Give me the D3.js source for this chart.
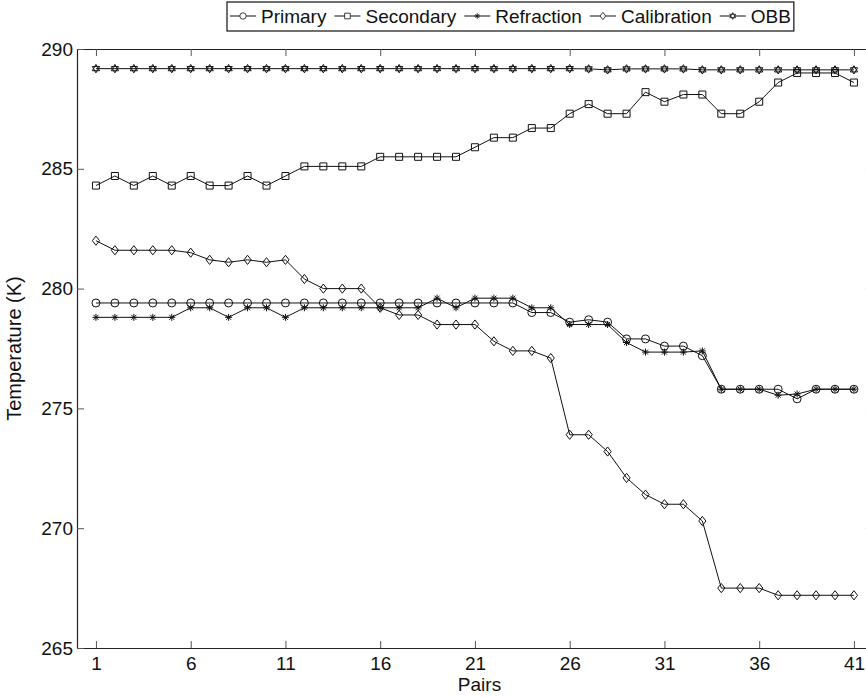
<!DOCTYPE html>
<html>
<head>
<meta charset="utf-8">
<script src="https://cdn.jsdelivr.net/npm/d3@7"></script>
<style>
 body { margin:0; background:#fff; }
 text { font-family: "Liberation Sans", Arial, Helvetica, sans-serif; }
</style>
</head>
<body>
<div id="chart"></div>
<script>
 // data
 var pairs = d3.range(1, 42);
 var xTicks = [1, 6, 11, 16, 21, 26, 31, 36, 41];
 var yTicks = [265, 270, 275, 280, 285, 290];

 var primary = [279.4,279.4,279.4,279.4,279.4,279.4,279.4,279.4,279.4,279.4,
		279.4,279.4,279.4,279.4,279.4,279.4,279.4,279.4,279.4,279.4,
		279.4,279.4,279.4,279.0,279.0,278.6,278.7,278.6,277.9,277.9,
		277.6,277.6,277.2,275.8,275.8,275.8,275.8,275.4,275.8,275.8,275.8];
 var secondary = [284.3,284.7,284.3,284.7,284.3,284.7,284.3,284.3,284.7,284.3,
		  284.7,285.1,285.1,285.1,285.1,285.5,285.5,285.5,285.5,285.5,
		  285.9,286.3,286.3,286.7,286.7,287.3,287.7,287.3,287.3,288.2,
		  287.8,288.1,288.1,287.3,287.3,287.8,288.6,289.0,289.0,289.0,288.6];
 var refraction = [278.8,278.8,278.8,278.8,278.8,279.2,279.2,278.8,279.2,279.2,
		   278.8,279.2,279.2,279.2,279.2,279.2,279.2,279.2,279.6,279.2,
		   279.6,279.6,279.6,279.2,279.2,278.5,278.5,278.5,277.75,277.35,
		   277.35,277.35,277.4,275.8,275.8,275.8,275.55,275.6,275.8,275.8,275.8];
 var calibration = [282.0,281.6,281.6,281.6,281.6,281.5,281.2,281.1,281.2,281.1,
		    281.2,280.4,280.0,280.0,280.0,279.2,278.9,278.9,278.5,278.5,
		    278.5,277.8,277.4,277.4,277.1,273.9,273.9,273.2,272.1,271.4,
		    271.0,271.0,270.3,267.5,267.5,267.5,267.2,267.2,267.2,267.2,267.2];
 var obb = [289.18,289.18,289.18,289.18,289.18,289.18,289.18,289.18,289.18,289.18,
	    289.18,289.18,289.18,289.18,289.18,289.18,289.18,289.18,289.18,289.18,
	    289.18,289.18,289.18,289.18,289.18,289.18,289.17,289.13,289.17,289.17,
	    289.17,289.17,289.13,289.13,289.13,289.13,289.13,289.13,289.13,289.13,289.13];

 var seriesNames = ["Primary", "Secondary", "Refraction", "Calibration", "OBB"];
 var seriesValues = [primary, secondary, refraction, calibration, obb];
 var seriesMarks = ["circle", "square", "asterisk", "diamond", "hexagram"];

 var W = 866, H = 697;
 var svg = d3.select("#chart").append("svg")
     .attr("width", W)
     .attr("height", H);

 var x = d3.scaleLinear().domain([0, 42]).range([77, 77 + 42 * 18.95]);
 var y = d3.scaleLinear().domain([265, 290]).range([648, 49]);

 //marker shapes, drawn centred on 0,0
 function markPath(kind) {
     if (kind == "circle") return d3.symbol().type(d3.symbolCircle).size(Math.PI * 16)();
     if (kind == "square") return "M-3.5,-3.5H3.5V3.5H-3.5Z";
     if (kind == "diamond") return "M0,-4.6L3.6,0L0,4.6L-3.6,0Z";
     if (kind == "asterisk") return "M-3.5,0H3.5M0,-3.5V3.5M-2.5,-2.5L2.5,2.5M-2.5,2.5L2.5,-2.5";
     // hexagram: two triangles
     var r = 4.2, pts1 = [], pts2 = [];
     for (var k = 0; k < 3; k++) {
	 var a1 = -Math.PI / 2 + k * 2 * Math.PI / 3;
	 var a2 = Math.PI / 2 + k * 2 * Math.PI / 3;
	 pts1.push([r * Math.cos(a1), r * Math.sin(a1)]);
	 pts2.push([r * Math.cos(a2), r * Math.sin(a2)]);
     }
     return "M" + pts1.join("L") + "Z" + "M" + pts2.join("L") + "Z";
 }

 //axes, ticks pointing inward like the original
 var xAxisB = d3.axisBottom(x).tickValues(xTicks).tickFormat(d3.format("d"))
     .tickSizeInner(-7).tickSizeOuter(0).tickPadding(9);
 var xAxisT = d3.axisTop(x).tickValues(xTicks).tickFormat("")
     .tickSizeInner(-7).tickSizeOuter(0);
 var yAxisL = d3.axisLeft(y).tickValues(yTicks).tickFormat(d3.format("d"))
     .tickSizeInner(-7).tickSizeOuter(0).tickPadding(4);
 var yAxisR = d3.axisRight(y).tickValues(yTicks).tickFormat("")
     .tickSizeInner(-7).tickSizeOuter(0);

 svg.append("g").attr("transform", "translate(0," + y(265) + ")").call(xAxisB);
 svg.append("g").attr("transform", "translate(0," + y(290) + ")").call(xAxisT);
 svg.append("g").attr("transform", "translate(" + x(0) + ",0)").call(yAxisL);
 svg.append("g").attr("transform", "translate(" + x(42) + ",0)").call(yAxisR);

 svg.selectAll(".domain").attr("stroke", "#222").attr("stroke-width", 1.2);
 svg.selectAll(".tick line").attr("stroke", "#555").attr("stroke-width", 1);
 svg.selectAll(".tick text").attr("font-size", 19).attr("fill", "#111")
     .style("font-family", "'Liberation Sans', Arial, sans-serif");

 //axis titles
 svg.append("text")
     .attr("x", (x(0) + 866) / 2 + 8)
     .attr("y", 691)
     .attr("text-anchor", "middle")
     .attr("font-size", 19)
     .attr("fill", "#111")
     .text("Pairs");
 svg.append("text")
     .attr("transform", "translate(21," + y(277.5) + ") rotate(-90)")
     .attr("text-anchor", "middle")
     .attr("font-size", 20)
     .attr("fill", "#111")
     .text("Temperature (K)");

 //series
 var line = d3.line()
     .x(function(d, i) { return x(pairs[i]); })
     .y(function(d) { return y(d); });

 var plot = svg.append("g");
 seriesValues.forEach(function(vals, s) {
     var g = plot.append("g").attr("class", "series");
     g.append("path")
	 .attr("d", line(vals))
	 .attr("fill", "none")
	 .attr("stroke", "#111")
	 .attr("stroke-width", 1);
     g.selectAll("path.mark")
	 .data(vals)
	 .enter()
	 .append("path")
	 .attr("class", "mark")
	 .attr("transform", function(d, i) { return "translate(" + x(pairs[i]) + "," + y(d) + ")"; })
	 .attr("d", markPath(seriesMarks[s]))
	 .attr("fill", "none")
	 .attr("stroke", "#111")
	 .attr("stroke-width", 1);
 });

 //legend along the top
 var legend = svg.append("g").attr("class", "legend");
 var lineLen = 26, gapTxt = 5, gapEntry = 8, pad = 3;
 var cx = pad;
 seriesNames.forEach(function(name, s) {
     var e = legend.append("g").attr("transform", "translate(" + cx + ",0)");
     e.append("line")
	 .attr("x1", 0).attr("x2", lineLen)
	 .attr("y1", 16).attr("y2", 16)
	 .attr("stroke", "#111");
     e.append("path")
	 .attr("transform", "translate(" + lineLen / 2 + ",16) scale(0.8)")
	 .attr("d", markPath(seriesMarks[s]))
	 .attr("fill", "#fff")
	 .attr("stroke", "#111");
     var t = e.append("text")
	 .attr("x", lineLen + gapTxt)
	 .attr("y", 23)
	 .attr("font-size", 19)
	 .attr("fill", "#111")
	 .text(name);
     cx += lineLen + gapTxt + t.node().getComputedTextLength() + gapEntry;
 });
 var legW = cx - gapEntry + pad;
 legend.insert("rect", ":first-child")
     .attr("x", 0).attr("y", 2)
     .attr("width", legW).attr("height", 29)
     .attr("fill", "#fff")
     .attr("stroke", "#111")
     .attr("stroke-width", 1.2);
 legend.attr("transform", "translate(" + Math.round(510.5 - legW / 2) + ",0)");
</script>
</body>
</html>
